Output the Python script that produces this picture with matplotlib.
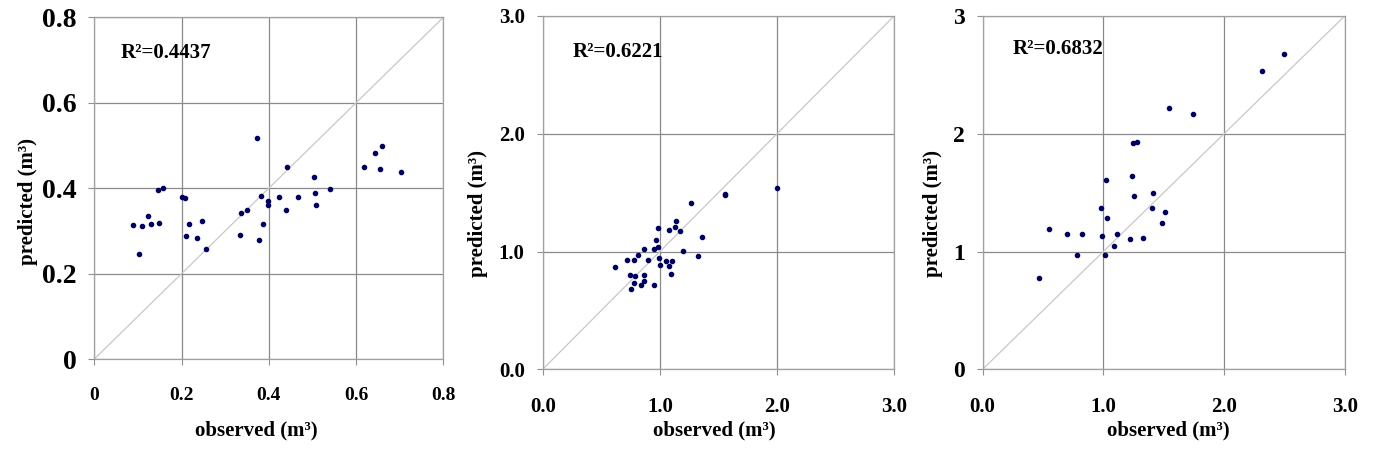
import matplotlib
matplotlib.use("Agg")
import matplotlib.pyplot as plt

plt.rcParams["font.family"] = ["Liberation Serif", "DejaVu Serif"]
plt.rcParams["font.weight"] = "bold"

# panel 1 (observed, predicted)
obs1 = [0.089, 0.103, 0.110, 0.123, 0.131, 0.145, 0.149, 0.158, 0.202, 0.208,
        0.209, 0.216, 0.236, 0.247, 0.257, 0.334, 0.337, 0.351, 0.372, 0.378,
        0.381, 0.386, 0.397, 0.398, 0.423, 0.439, 0.442, 0.467, 0.503, 0.506,
        0.509, 0.541, 0.619, 0.643, 0.655, 0.659, 0.704]
pred1 = [0.314, 0.247, 0.312, 0.336, 0.316, 0.396, 0.318, 0.400, 0.379, 0.376,
         0.289, 0.316, 0.284, 0.322, 0.258, 0.291, 0.342, 0.350, 0.518, 0.278,
         0.382, 0.315, 0.370, 0.361, 0.379, 0.349, 0.449, 0.379, 0.426, 0.389,
         0.361, 0.398, 0.449, 0.482, 0.446, 0.499, 0.439]

# panel 2
obs2 = [0.62, 0.72, 0.78, 0.745, 0.79, 0.777, 0.754, 0.816, 0.862, 0.862,
        0.868, 0.842, 0.902, 0.948, 0.950, 0.968, 0.982, 0.985, 0.99, 1.004,
        1.056, 1.078, 1.104, 1.096, 1.078, 1.13, 1.141, 1.175, 1.198, 1.264,
        1.324, 1.358, 1.557, 1.56, 1.998]
pred2 = [0.866, 0.928, 0.928, 0.797, 0.789, 0.729, 0.681, 0.973, 1.019, 0.797,
         0.752, 0.717, 0.925, 0.717, 1.019, 1.098, 1.041, 1.203, 0.942, 0.888,
         0.919, 0.879, 0.919, 0.811, 1.183, 1.206, 1.257, 1.174, 1.007, 1.413,
         0.964, 1.123, 1.489, 1.478, 1.538]

# panel 3
obs3 = [0.465, 0.548, 0.702, 0.785, 0.826, 0.978, 0.989, 1.013, 1.025, 1.027,
        1.088, 1.116, 1.217, 1.234, 1.242, 1.250, 1.281, 1.331, 1.407, 1.413,
        1.490, 1.515, 1.548, 1.746, 2.314, 2.496]
pred3 = [0.775, 1.188, 1.145, 0.972, 1.151, 1.371, 1.132, 0.974, 1.610, 1.282,
         1.051, 1.145, 1.106, 1.638, 1.921, 1.470, 1.926, 1.115, 1.371, 1.496,
         1.245, 1.333, 2.217, 2.171, 2.536, 2.675]

r2_labels = ["R²=0.4437", "R²=0.6221", "R²=0.6832"]

ticks1 = [0, 0.2, 0.4, 0.6, 0.8]
ticks1_lab = ["0", "0.2", "0.4", "0.6", "0.8"]
ticks23 = [0, 1, 2, 3]
ticks23_lab = ["0.0", "1.0", "2.0", "3.0"]
ticks3_ylab = ["0", "1", "2", "3"]

fig = plt.figure(figsize=(13.73, 4.49), dpi=100)

panels = [
    dict(rect=[0.0687, 0.2004, 0.2542, 0.7610], x=obs1, y=pred1, lim=0.8,
         ticks=ticks1, xlab=ticks1_lab, ylab=ticks1_lab, yfs=20, xfs=14,
         r2=r2_labels[0], r2pos=(0.076, 0.896),
         xlabpos=(0.463, -0.208), ylabpos=(-0.19, 0.462)),
    dict(rect=[0.3953, 0.1775, 0.2559, 0.7869], x=obs2, y=pred2, lim=3.0,
         ticks=ticks23, xlab=ticks23_lab, ylab=ticks23_lab, yfs=15, xfs=15,
         r2=r2_labels[1], r2pos=(0.085, 0.898),
         xlabpos=(0.488, -0.172), ylabpos=(-0.183, 0.441)),
    dict(rect=[0.7157, 0.1775, 0.2637, 0.7869], x=obs3, y=pred3, lim=3.0,
         ticks=ticks23, xlab=ticks23_lab, ylab=ticks3_ylab, yfs=17, xfs=15,
         r2=r2_labels[2], r2pos=(0.084, 0.906),
         xlabpos=(0.512, -0.172), ylabpos=(-0.137, 0.441)),
]

for p in panels:
    ax = fig.add_axes(p["rect"])
    lim = p["lim"]
    ax.set_xlim(0, lim)
    ax.set_ylim(0, lim)
    ax.plot([0, lim], [0, lim], color="#c8c8c8", lw=0.9, zorder=1)
    ax.plot(p["x"], p["y"], "o", color="#000060", markersize=3, zorder=3)

    ax.set_xticks(p["ticks"])
    ax.set_xticklabels(p["xlab"], fontsize=p["xfs"], fontweight="bold")
    ax.set_yticks(p["ticks"])
    ax.set_yticklabels(p["ylab"], fontsize=p["yfs"], fontweight="bold")
    ax.tick_params(axis="x", direction="out", length=4, color="#909090", pad=16)
    ax.tick_params(axis="y", direction="out", length=4, color="#909090", pad=9)
    ax.grid(True, color="#8a8a8a", lw=0.9)
    ax.set_axisbelow(True)
    for s in ax.spines.values():
        s.set_color("#a0a0a0")
        s.set_linewidth(0.9)

    ax.set_xlabel("observed (m³)", fontsize=15, fontweight="bold", va="center")
    ax.xaxis.set_label_coords(*p["xlabpos"])
    ax.set_ylabel("predicted (m³)", fontsize=15, fontweight="bold",
                  va="center", ha="center")
    ax.yaxis.set_label_coords(*p["ylabpos"])

    ax.text(p["r2pos"][0], p["r2pos"][1], p["r2"], transform=ax.transAxes,
            fontsize=15, fontweight="bold", va="center", ha="left")

fig.savefig("out.png", dpi=100)
